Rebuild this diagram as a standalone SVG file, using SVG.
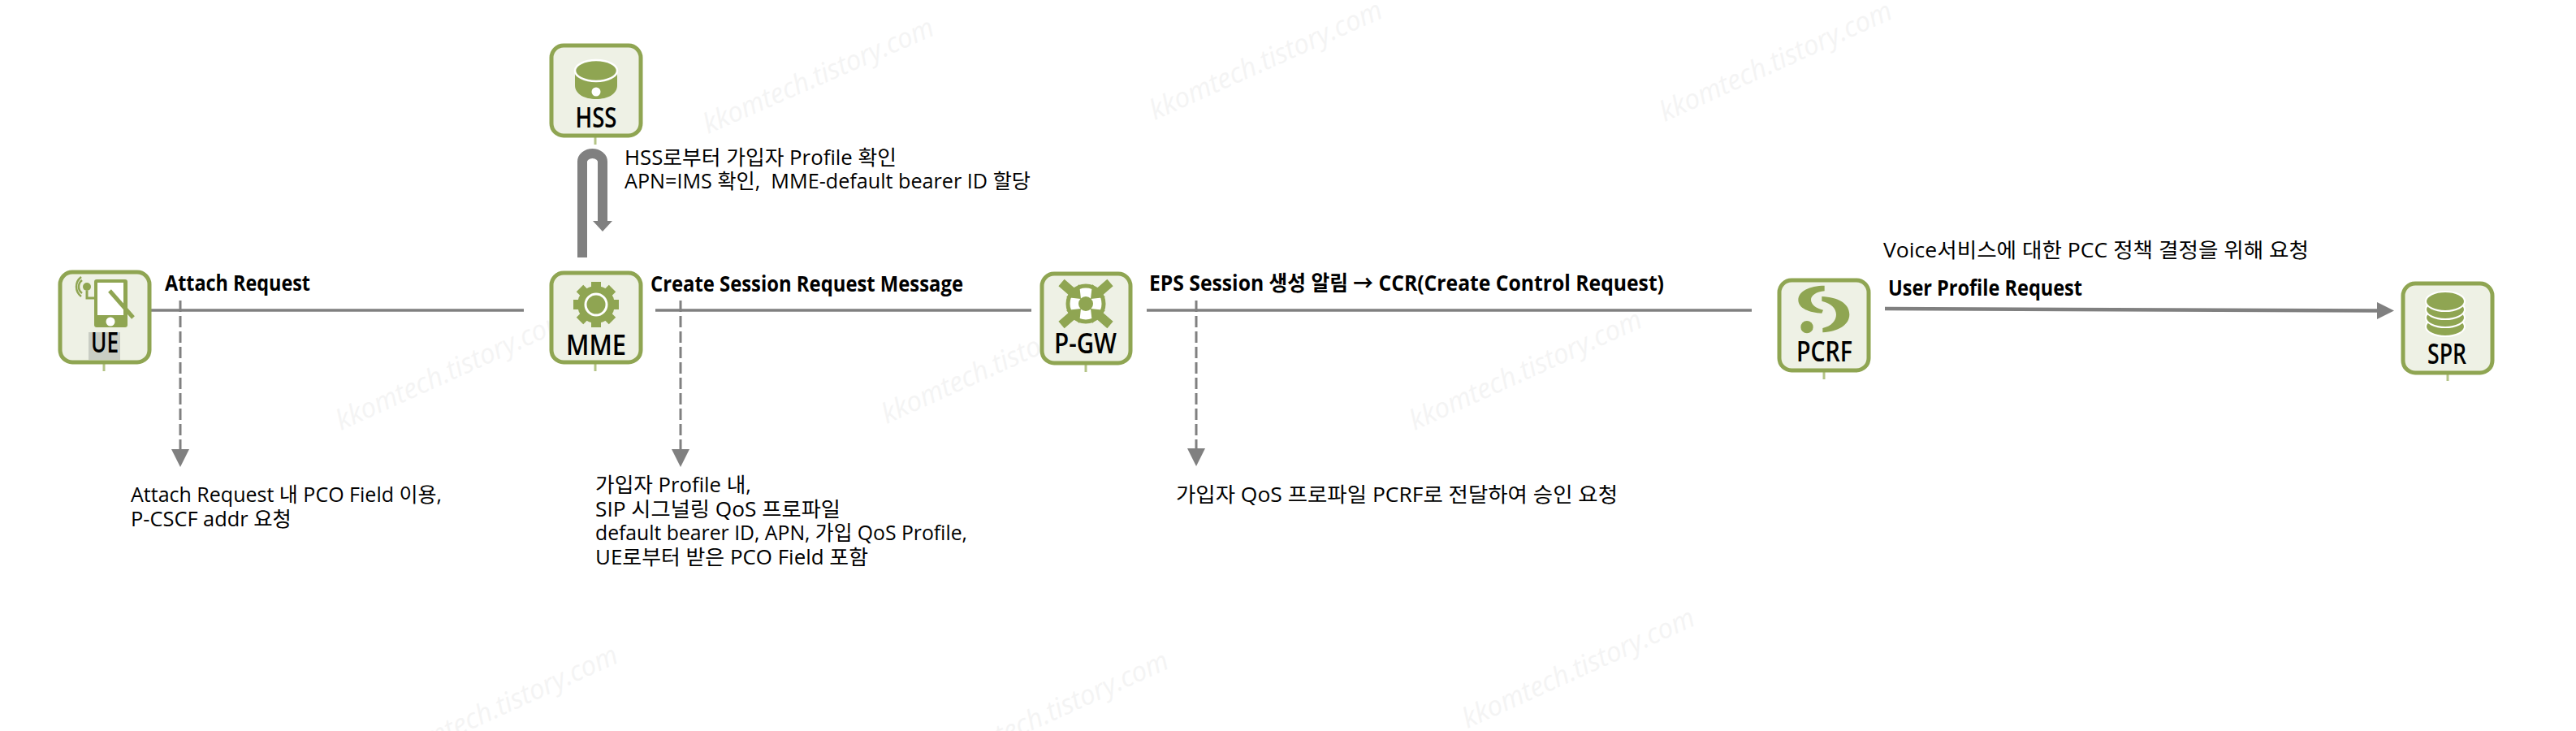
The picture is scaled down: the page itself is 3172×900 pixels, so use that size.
<svg xmlns="http://www.w3.org/2000/svg" width="3172" height="900" viewBox="0 0 3172 900">
<style>
text{font-family:"Open Sans","Noto Sans CJK KR",sans-serif;fill:#000;white-space:pre}
.t{font-size:25px}
.b{font-size:26px;font-weight:700}
.n{font-size:34px;font-weight:600;text-anchor:middle}
.w{font-size:34px;font-style:italic;fill:#f4f4f4}
.box{fill:#eef1e5;stroke:#8fa552;stroke-width:5}
.tail{stroke:#b4c486;stroke-width:3;fill:none}
.g{fill:#8fa552}
.ln{stroke:#808080;stroke-width:3.5;fill:none}
.ds{stroke:#808080;stroke-width:3;stroke-dasharray:14 5;fill:none}
.ah{fill:#808080}
</style>
<rect width="3172" height="900" fill="#fff"/>
<g id="watermarks">
<text class="w" textLength="306" lengthAdjust="spacingAndGlyphs" transform="translate(872 165) rotate(-23.6)">kkomtech.tistory.com</text>
<text class="w" textLength="310" lengthAdjust="spacingAndGlyphs" transform="translate(1422 148) rotate(-24.2)">kkomtech.tistory.com</text>
<text class="w" textLength="310" lengthAdjust="spacingAndGlyphs" transform="translate(2050 150) rotate(-24.4)">kkomtech.tistory.com</text>
<text class="w" textLength="310" lengthAdjust="spacingAndGlyphs" transform="translate(420 530) rotate(-24.4)">kkomtech.tistory.com</text>
<text class="w" textLength="310" lengthAdjust="spacingAndGlyphs" transform="translate(1092 522) rotate(-24.4)">kkomtech.tistory.com</text>
<text class="w" textLength="310" lengthAdjust="spacingAndGlyphs" transform="translate(1742 530) rotate(-24.4)">kkomtech.tistory.com</text>
<text class="w" textLength="310" lengthAdjust="spacingAndGlyphs" transform="translate(481 943) rotate(-24.4)">kkomtech.tistory.com</text>
<text class="w" textLength="310" lengthAdjust="spacingAndGlyphs" transform="translate(1159 950) rotate(-24.4)">kkomtech.tistory.com</text>
<text class="w" textLength="310" lengthAdjust="spacingAndGlyphs" transform="translate(1807 897) rotate(-24.4)">kkomtech.tistory.com</text>
</g>
<g id="connectors">
<path class="ln" d="M185 382H645M807 382H1270M1412 382H2157"/>
<path class="ds" d="M222 370V553M838 370V553M1473 370V552"/>
<polygon class="ah" points="211,553 233,553 222,575"/>
<polygon class="ah" points="827,553 849,553 838,575"/>
<polygon class="ah" points="1462,552 1484,552 1473,574"/>
<path d="M717 317V199A12.5 10 0 0 1 742 199V273" fill="none" stroke="#808080" stroke-width="12"/>
<polygon class="ah" points="730,272 754,272 742,285"/>
<path d="M2321 380L2930 382.5" stroke="#808080" stroke-width="4.5" fill="none"/>
<polygon class="ah" points="2927,372 2948,382.5 2927,393"/>
</g>
<g id="labels">
<text class="b" x="203" y="358" textLength="179" lengthAdjust="spacingAndGlyphs">Attach Request</text>
<text class="b" x="801" y="359" textLength="385" lengthAdjust="spacingAndGlyphs">Create Session Request Message</text>
<text class="b" x="1415" y="358" textLength="634" lengthAdjust="spacingAndGlyphs">EPS Session 생성 알림 → CCR(Create Control Request)</text>
<text class="b" x="2325" y="364" textLength="239" lengthAdjust="spacingAndGlyphs">User Profile Request</text>
<text class="t" x="2319" y="317" textLength="524" lengthAdjust="spacingAndGlyphs">Voice서비스에 대한 PCC 정책 결정을 위해 요청</text>
<text class="t" x="769" y="203" textLength="335" lengthAdjust="spacingAndGlyphs">HSS로부터 가입자 Profile 확인</text>
<text class="t" x="769" y="232" textLength="500" lengthAdjust="spacingAndGlyphs">APN=IMS 확인,  MME-default bearer ID 할당</text>
<text class="t" x="161" y="618" textLength="383" lengthAdjust="spacingAndGlyphs">Attach Request 내 PCO Field 이용,</text>
<text class="t" x="161" y="648" textLength="198" lengthAdjust="spacingAndGlyphs">P-CSCF addr 요청</text>
<text class="t" x="733" y="606" textLength="192" lengthAdjust="spacingAndGlyphs">가입자 Profile 내,</text>
<text class="t" x="733" y="636" textLength="302" lengthAdjust="spacingAndGlyphs">SIP 시그널링 QoS 프로파일</text>
<text class="t" x="733" y="665" textLength="458" lengthAdjust="spacingAndGlyphs">default bearer ID, APN, 가입 QoS Profile,</text>
<text class="t" x="733" y="695" textLength="336" lengthAdjust="spacingAndGlyphs">UE로부터 받은 PCO Field 포함</text>
<text class="t" x="1448" y="618" textLength="544" lengthAdjust="spacingAndGlyphs">가입자 QoS 프로파일 PCRF로 전달하여 승인 요청</text>
</g>
<g id="UE">
<path class="tail" d="M128 447V457"/>
<rect class="box" x="74" y="335" width="110" height="111" rx="15"/>
<rect x="109" y="409" width="39" height="34" fill="#c9cdc4"/>
<rect class="g" x="116" y="344" width="41" height="59" rx="3"/>
<rect x="120" y="348" width="32" height="40" fill="#fff"/>
<circle cx="136" cy="396" r="5.500" fill="#fff"/>
<path d="M135 358L164 391" stroke="#8fa552" stroke-width="5"/>
<circle class="g" cx="107" cy="353" r="5"/>
<path d="M107 358V367H116" stroke="#8fa552" stroke-width="3" fill="none"/>
<path d="M101 345A10 10 0 0 0 101 361M100 341A15 15 0 0 0 100 365" stroke="#8fa552" stroke-width="2.500" fill="none"/>
<text class="n" x="129" y="434" textLength="34" lengthAdjust="spacingAndGlyphs">UE</text>
</g>
<g id="HSS">
<path class="tail" d="M733 168V178"/>
<rect class="box" x="679" y="56" width="110" height="111" rx="15"/>
<path class="g" d="M708 87V105C708 116 720 122 734 122C748 122 760 116 760 105V87Z"/>
<ellipse class="g" cx="734" cy="87" rx="26" ry="13" stroke="#fff" stroke-width="2.500"/>
<circle cx="734" cy="113" r="5.500" fill="#fff"/>
<text class="n" x="734" y="157" textLength="51" lengthAdjust="spacingAndGlyphs">HSS</text>
</g>
<g id="MME">
<path class="tail" d="M733 447V457"/>
<rect class="box" x="679" y="336" width="110" height="110" rx="15"/>
<circle class="g" cx="734" cy="375" r="23"/>
<path d="M734 347V403M706 375H762M714 355L754 395M754 355L714 395" stroke="#8fa552" stroke-width="12"/>
<circle class="g" cx="734" cy="375" r="13" stroke="#fff" stroke-width="3"/>
<text class="n" x="734" y="437" textLength="74" lengthAdjust="spacingAndGlyphs">MME</text>
</g>
<g id="P-GW">
<path class="tail" d="M1337 448V458"/>
<rect class="box" x="1283" y="337" width="109" height="110" rx="15"/>
<circle cx="1337" cy="374" r="22" fill="#fff" stroke="#8fa552" stroke-width="5"/>
<path d="M1307 348L1322 361M1367 348L1352 361M1307 400L1322 387M1367 400L1352 387" stroke="#8fa552" stroke-width="11"/>
<path class="g" d="M1313 366L1329 350L1331 368ZM1361 366L1345 350L1343 368ZM1313 382L1329 398L1331 380ZM1361 382L1345 398L1343 380Z"/>
<circle class="g" cx="1337" cy="374" r="9"/>
<text class="n" x="1336.500" y="435" textLength="77" lengthAdjust="spacingAndGlyphs">P-GW</text>
</g>
<g id="PCRF">
<path class="tail" d="M2246 457V467"/>
<rect class="box" x="2191" y="345" width="110" height="111" rx="15"/>
<g transform="translate(2175 330) scale(.3333)" class="g">
<path d="M215,65L215,85C185,88 165,100 165,118C165,135 185,150 210,155L205,167C160,165 118,150 118,118C118,85 160,65 215,65Z"/>
<path d="M205,105C265,108 307,130 307,172C307,210 265,235 208,238L208,222C240,215 258,195 258,172C258,150 240,130 205,122Z"/>
<circle cx="150" cy="218" r="23"/>
</g>
<text class="n" x="2246.500" y="445" textLength="69" lengthAdjust="spacingAndGlyphs">PCRF</text>
</g>
<g id="SPR">
<path class="tail" d="M3014 459V469"/>
<rect class="box" x="2959" y="349" width="110" height="110" rx="15"/>
<g class="g" stroke="#fff" stroke-width="2">
<ellipse cx="3011" cy="402" rx="24" ry="12"/>
<ellipse cx="3011" cy="391" rx="24" ry="12"/>
<ellipse cx="3011" cy="381" rx="24" ry="12"/>
<ellipse cx="3011" cy="371" rx="24" ry="12"/>
</g>
<text class="n" x="3013" y="448" textLength="48" lengthAdjust="spacingAndGlyphs">SPR</text>
</g>
</svg>
